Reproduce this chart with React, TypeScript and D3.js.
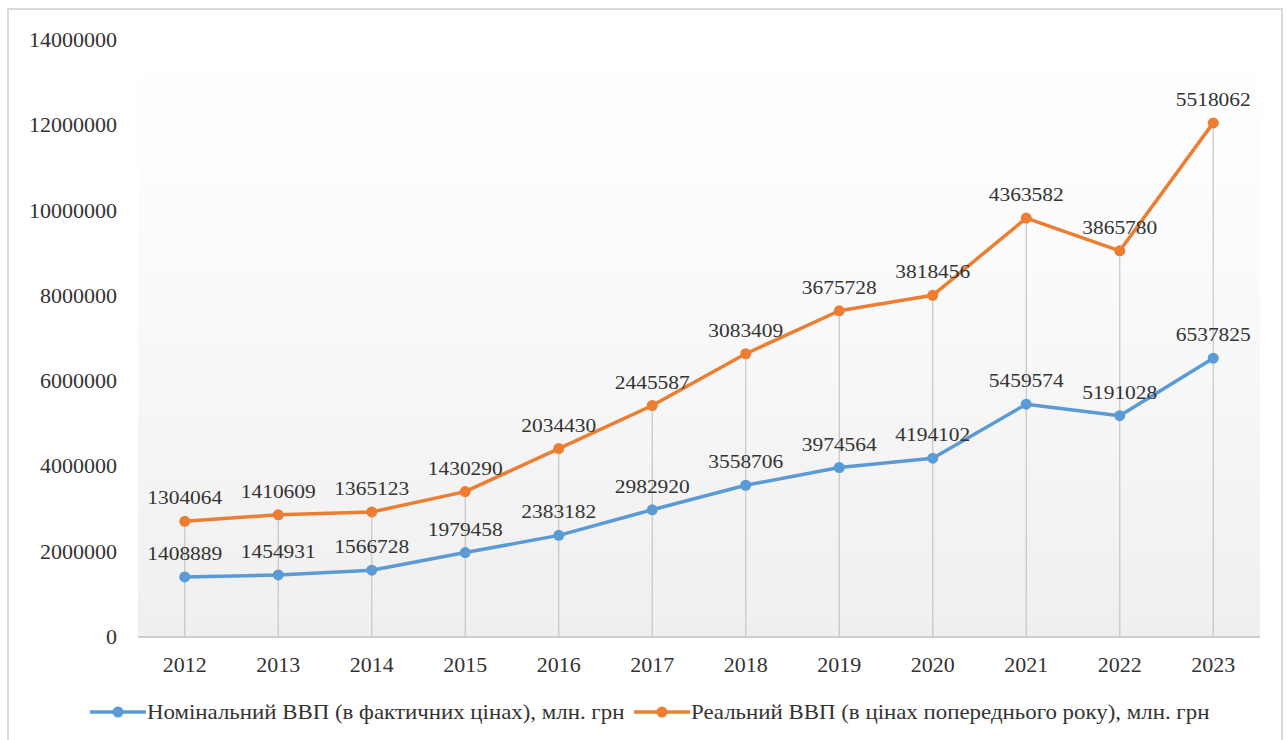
import * as d3 from 'd3';
import React from 'react';

const years = ['2012', '2013', '2014', '2015', '2016', '2017', '2018', '2019', '2020', '2021', '2022', '2023'];
const nominal = [1408889, 1454931, 1566728, 1979458, 2383182, 2982920, 3558706, 3974564, 4194102, 5459574, 5191028, 6537825];
const real = [1304064, 1410609, 1365123, 1430290, 2034430, 2445587, 3083409, 3675728, 3818456, 4363582, 3865780, 5518062];
const yTicks = [0, 2000000, 4000000, 6000000, 8000000, 10000000, 12000000, 14000000];
const seriesNames = [
   'Номінальний ВВП (в фактичних цінах), млн. грн',
   'Реальний ВВП (в цінах попереднього року), млн. грн',
];

const W = 1287;
const H = 740;
const margin = { top: 40, right: 27, bottom: 103, left: 138 };
const blue = '#5b9bd5';
const orange = '#ed7d31';
const font = '"Liberation Serif", "Times New Roman", serif';
const textColor = '#333333';
// the source picture is slightly stretched horizontally
const stretch = 1.1;

type LabelProps = {
   x: number;
   y: number;
   anchor?: 'start' | 'middle' | 'end';
   size?: number;
   dy?: string;
   children: React.ReactNode;
};

const Label = ({ x, y, anchor = 'middle', size = 20, dy, children }: LabelProps) => (
   <text
      transform={`translate(${x},${y}) scale(${stretch},1)`}
      textAnchor={anchor}
      dy={dy}
      fontFamily={font}
      fontSize={size}
      fill={textColor}
   >
      {children}
   </text>
);

const App = () => {
   const innerW = W - margin.left - margin.right;
   const innerH = H - margin.top - margin.bottom;

   const x = d3.scaleBand<string>().domain(years).range([margin.left, margin.left + innerW]);
   const y = d3.scaleLinear().domain([0, 14000000]).range([margin.top + innerH, margin.top]);
   const cx = (yr: string) => (x(yr) ?? 0) + x.bandwidth() / 2;

   // stacked line chart: real series sits on top of nominal
   const stacked = real.map((v, i) => v + nominal[i]);

   const line = d3
      .line<number>()
      .x((_, i) => cx(years[i]))
      .y((v) => y(v));

   const series = [
      { name: seriesNames[0], color: blue, plotted: nominal, labels: nominal },
      { name: seriesNames[1], color: orange, plotted: stacked, labels: real },
   ];

   const legendItems = [
      { x: 90, color: blue, name: seriesNames[0] },
      { x: 634, color: orange, name: seriesNames[1] },
   ];

   return (
      <div style={{ position: 'absolute', left: 0, top: 0 }}>
         <svg width={W} height={H} style={{ display: 'block', background: '#fff' }}>
            <defs>
               <linearGradient id="plotBg" x1="0" y1="0" x2="0" y2="1">
                  <stop offset="0%" stopColor="#ffffff" />
                  <stop offset="35%" stopColor="#fbfbfb" />
                  <stop offset="100%" stopColor="#efefef" />
               </linearGradient>
            </defs>
            <rect x={8} y={9} width={1274} height={740} fill="none" stroke="#d9d9d9" strokeWidth={2} />
            <rect x={margin.left} y={margin.top} width={innerW} height={innerH} fill="url(#plotBg)" />

            {/* drop lines */}
            {years.map((yr, i) => (
               <line
                  key={yr}
                  x1={cx(yr)}
                  x2={cx(yr)}
                  y1={y(stacked[i])}
                  y2={y(0)}
                  stroke="#c6c6c6"
                  strokeWidth={1.2}
               />
            ))}

            {/* x axis */}
            <line x1={margin.left} x2={margin.left + innerW} y1={y(0)} y2={y(0)} stroke="#c0c0c0" strokeWidth={1.5} />
            {years.map((yr) => (
               <Label key={yr} x={cx(yr)} y={y(0) + 35}>
                  {yr}
               </Label>
            ))}

            {/* y axis labels */}
            {yTicks.map((t) => (
               <Label key={t} x={117} y={y(t)} dy="0.35em" anchor="end">
                  {t}
               </Label>
            ))}

            {/* series */}
            {series.map((s) => (
               <g key={s.name}>
                  <path d={line(s.plotted) ?? ''} fill="none" stroke={s.color} strokeWidth={3.5} strokeLinejoin="round" />
                  {s.plotted.map((v, i) => (
                     <circle key={i} cx={cx(years[i])} cy={y(v)} r={5.5} fill={s.color} />
                  ))}
                  {s.plotted.map((v, i) => (
                     <Label key={'l' + i} x={cx(years[i])} y={y(v) - 17} size={19.5}>
                        {s.labels[i]}
                     </Label>
                  ))}
               </g>
            ))}

            {/* legend */}
            {legendItems.map((l) => (
               <g key={l.name}>
                  <line x1={l.x} x2={l.x + 56} y1={712} y2={712} stroke={l.color} strokeWidth={3.5} />
                  <circle cx={l.x + 28} cy={712} r={5.5} fill={l.color} />
                  <Label x={l.x + 57} y={712} dy="0.35em" anchor="start" size={20.8}>
                     {l.name}
                  </Label>
               </g>
            ))}
         </svg>
      </div>
   );
};

export default App;
